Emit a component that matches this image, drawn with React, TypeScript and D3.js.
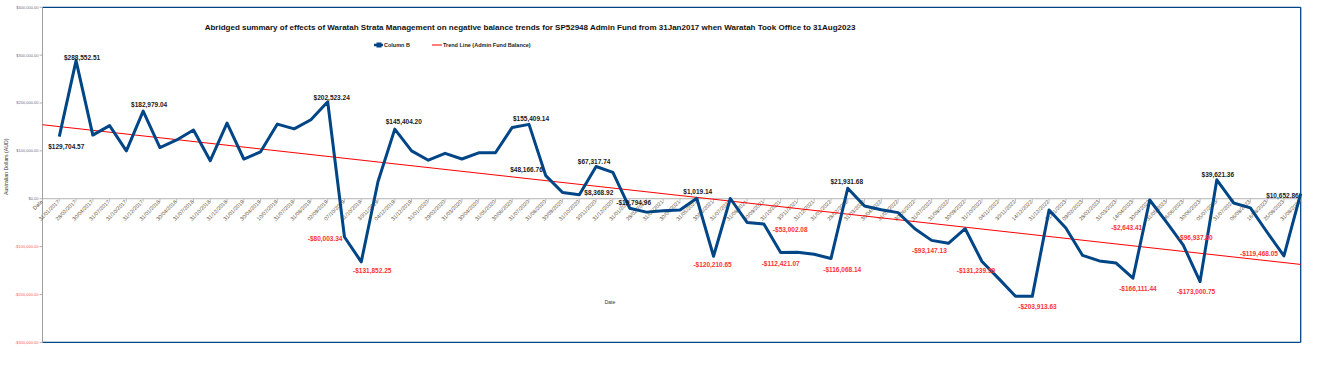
import React from "react";
import * as d3 from "d3";

const W = 1319;
const H = 379;

const title =
  "Abridged summary of effects of Waratah Strata Management on negative balance trends for SP52948 Admin Fund from 31Jan2017 when Waratah Took Office to 31Aug2023";

const firstCategory = "Date";

const dates: string[] = [
  "31/01/2017", "28/02/2017", "30/04/2017", "31/07/2017", "31/10/2017", "31/12/2017",
  "31/01/2018", "30/04/2018", "31/07/2018", "31/10/2018", "31/12/2018",
  "31/01/2019", "30/04/2019", "10/07/2019", "31/07/2019", "31/08/2019", "02/09/2019",
  "07/10/2019", "31/10/2019", "30/11/2019", "04/12/2019", "31/12/2019",
  "31/01/2020", "29/02/2020", "31/03/2020", "30/04/2020", "31/05/2020", "30/06/2020",
  "31/07/2020", "31/08/2020", "30/09/2020", "31/10/2020", "30/11/2020", "31/12/2020",
  "31/01/2021", "28/02/2021", "31/03/2021", "30/04/2021", "31/05/2021", "30/06/2021",
  "31/07/2021", "31/08/2021", "30/09/2021", "31/10/2021", "30/11/2021", "31/12/2021",
  "31/01/2022", "28/02/2022", "31/03/2022", "30/04/2022", "31/05/2022", "30/06/2022",
  "31/07/2022", "31/08/2022", "30/09/2022", "31/10/2022", "04/11/2022", "30/11/2022",
  "14/12/2022", "31/12/2022", "31/01/2023", "09/02/2023", "28/02/2023", "31/03/2023",
  "14/04/2023", "30/04/2023", "31/05/2023", "06/06/2023", "30/06/2023", "05/07/2023",
  "31/07/2023", "06/08/2023", "16/08/2023", "25/08/2023", "31/08/2023",
];

const balances: number[] = [
  129704.57, 288552.51, 133000, 152700, 100000, 182979.04,
  107000, 122800, 143700, 79500, 158000,
  83000, 98000, 156000, 146000, 165000, 202523.24,
  -80003.34, -131852.25, 36000, 145404.2, 100000,
  80500, 94800, 83000, 96000, 96000, 149000,
  155409.14, 48166.76, 13000, 8368.92, 67317.74, 55000,
  -19794.96, -28000, -25000, -23700, 1019.14, -120210.65,
  500, -49600, -53002.08, -112421.07, -112000, -116068.14,
  -125000, 21931.68, -15300, -23000, -29000, -62700,
  -87000, -93147.13, -62700, -131239.59, -167000, -203913.63,
  -204000, -23700, -61000, -118500, -130000, -134500,
  -166111.44, -2643.41, -49000, -96937.8, -173000.75, 39621.36,
  -8800, -19000, -70000, -119468.05, 10652.86,
];

// trend line (Admin Fund Balance) values at first and last category
const trendStart = 154600;
const trendEnd = -137300;

const yTicks: number[] = [400000, 300000, 200000, 100000, 0, -100000, -200000, -300000];

// indices of points carrying a value label
const labelledPoints: number[] = [
  0, 1, 5, 16, 17, 18, 20, 28, 29, 31, 32, 34, 38, 39, 42, 43, 45, 47, 53, 55, 57, 64, 65, 67, 68, 69, 73, 74,
];

// label placement (offset of label text centre from point, anchor)
const labelPlacement: Record<number, [number, number, string]> = {
  0: [7, 10, "middle"],
  1: [6, -3, "middle"],
  5: [6, -6, "middle"],
  16: [4, -4, "middle"],
  17: [-2, 2, "end"],
  18: [11, 9, "middle"],
  20: [9, -7, "middle"],
  28: [2, -6, "middle"],
  29: [-3, -6, "end"],
  31: [5, -2, "start"],
  32: [-2, -5, "middle"],
  34: [4, -6, "middle"],
  38: [1, -7, "middle"],
  39: [-1, 8, "middle"],
  42: [9, 6, "start"],
  43: [0, 11, "middle"],
  45: [28, 15, "middle"],
  47: [-1, -7, "middle"],
  53: [-19, 7, "middle"],
  55: [-6, 9, "middle"],
  57: [22, 10, "middle"],
  64: [5, 10, "middle"],
  65: [-23, 28, "middle"],
  67: [12, -7, "middle"],
  68: [-4, 10, "middle"],
  69: [1, -5, "middle"],
  73: [-6, -2, "end"],
  74: [-2, 2, "end"],
};

const fmt = d3.format(",.2f");
const money = (v: number) => (v < 0 ? "-$" : "$") + fmt(Math.abs(v));

export default function App() {
  const left = 42.5;
  const right = 1300.7;
  const top = 7.3;
  const bottom = 342.3;

  const categories = [firstCategory, ...dates];
  const x = d3.scalePoint<string>().domain(categories).range([left, right]);
  const y = d3.scaleLinear().domain([-300000, 400000]).range([bottom, top]);

  const pts: [number, number][] = balances.map((v, i) => [x(dates[i]) as number, y(v)]);
  const line = d3.line<[number, number]>().x((d) => d[0]).y((d) => d[1]);

  const y0 = y(0);
  const font = "'Liberation Sans', Arial, sans-serif";
  const blue = "#004586";

  return (
    <svg
      width={W}
      height={H}
      style={{ position: "absolute", left: 0, top: 0, background: "#fff" }}
      fontFamily={font}
    >
      <rect x={0} y={0} width={W} height={H} fill="#fff" />
      {/* frame */}
      <line x1={left} x2={right} y1={top} y2={top} stroke={blue} strokeWidth={1.3} />
      <line x1={left} x2={right} y1={bottom} y2={bottom} stroke={blue} strokeWidth={1.3} />
      <line x1={right} x2={right} y1={top} y2={bottom} stroke={blue} strokeWidth={1.3} />
      <line x1={left} x2={left} y1={top} y2={bottom} stroke="#a0a0a0" strokeWidth={1} />
      <line x1={left} x2={right} y1={y0} y2={y0} stroke="#b3b3b3" strokeWidth={1} />

      {/* y ticks */}
      {yTicks.map((t) => (
        <g key={t}>
          <line x1={left - 3} x2={left} y1={y(t)} y2={y(t)} stroke="#a0a0a0" strokeWidth={0.8} />
          <text
            x={left - 4}
            y={y(t) + 1.4}
            fontSize={4}
            textAnchor="end"
            fill={t < 0 ? "#ff5a5a" : "#6e6e8a"}
          >
            {(t < 0 ? "-$" : "$") + fmt(Math.abs(t))}
          </text>
        </g>
      ))}

      {/* x ticks and labels */}
      {categories.map((c) => {
        const cx = x(c) as number;
        return (
          <g key={c}>
            <line x1={cx} x2={cx} y1={y0} y2={y0 + 3} stroke="#b3b3b3" strokeWidth={0.8} />
            <text
              transform={`translate(${cx + 0.5},${y0 + 3.5}) rotate(-45)`}
              fontSize={5.3}
              textAnchor="end"
              fill="#5a4a30"
            >
              {c}
            </text>
          </g>
        );
      })}

      {/* axis titles */}
      <text
        transform={`translate(8,${(top + bottom) / 2 - 8}) rotate(-90)`}
        fontSize={5.2}
        textAnchor="middle"
        fill="#333"
      >
        Australian Dollars (AUD)
      </text>
      <text x={610} y={304} fontSize={5} textAnchor="middle" fill="#333">
        Date
      </text>

      {/* trend line */}
      <line
        x1={x(firstCategory) as number}
        x2={x(dates[dates.length - 1]) as number}
        y1={y(trendStart)}
        y2={y(trendEnd)}
        stroke="#ff0000"
        strokeWidth={1}
      />

      {/* series */}
      <path d={line(pts) || ""} fill="none" stroke={blue} strokeWidth={3} strokeLinejoin="round" />

      {/* value labels */}
      {labelledPoints.map((i) => {
        const [dx, dy, anchor] = labelPlacement[i];
        const v = balances[i];
        return (
          <text
            key={i}
            x={pts[i][0] + dx}
            y={pts[i][1] + dy + 2.3}
            fontSize={6.5}
            fontWeight="bold"
            textAnchor={anchor}
            fill={v < 0 && i !== 34 ? "#ff3333" : "#1a1a1a"}
          >
            {money(v)}
          </text>
        );
      })}

      {/* title */}
      <text x={530} y={30} fontSize={8} fontWeight="bold" textAnchor="middle" fill="#111">
        {title}
      </text>

      {/* legend */}
      <line x1={374} x2={383} y1={45} y2={45} stroke={blue} strokeWidth={2.5} />
      <rect x={376.5} y={42.5} width={5} height={5} fill={blue} />
      <text x={384} y={47} fontSize={5.5} fontWeight="bold" fill="#222">
        Column B
      </text>
      <line x1={432} x2={442} y1={45} y2={45} stroke="#ff0000" strokeWidth={1} />
      <text x={443} y={47} fontSize={5.5} fontWeight="bold" fill="#222">
        Trend Line (Admin Fund Balance)
      </text>
    </svg>
  );
}
